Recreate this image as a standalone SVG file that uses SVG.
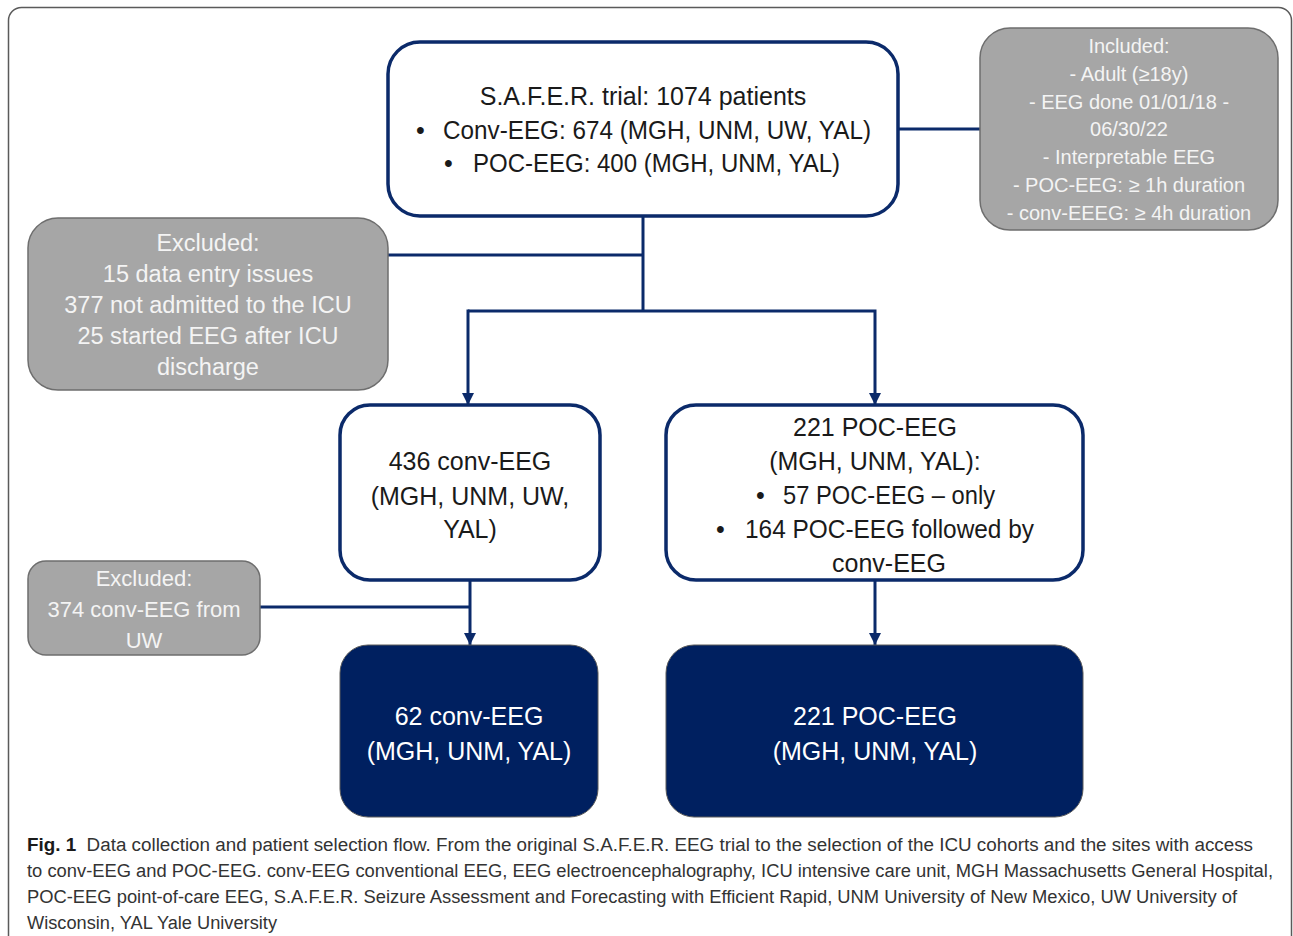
<svg xmlns="http://www.w3.org/2000/svg" width="1293" height="936" viewBox="0 0 1293 936">
<defs>
<style>
.frame{fill:none;stroke:#5a5a5a;stroke-width:1.5}
.wbox{fill:#ffffff;stroke:#0b2a6a;stroke-width:3.5}
.gbox{fill:#a6a6a6;stroke:#6e6e6e;stroke-width:1.5}
.dbox{fill:#002060;stroke:#5a5a5a;stroke-width:1}
.t{font-family:"Liberation Sans",Arial,sans-serif;text-anchor:middle}
.s{font-family:"Liberation Sans",Arial,sans-serif;text-anchor:start}
.tb{fill:#1a1a1a;font-size:25px}
.tg{fill:#f4f4f4;font-size:20px}
.tg1{fill:#f4f4f4;font-size:23.5px}
.tg2{fill:#f4f4f4;font-size:22px}
.tw{fill:#ffffff;font-size:25px}
.cap{font-family:"Liberation Sans",Arial,sans-serif;font-size:18px;fill:#333333}
.conn{fill:none;stroke:#0b2a6a;stroke-width:3}
</style>
<marker id="arr" viewBox="0 0 10 10" refX="10" refY="5" markerWidth="4" markerHeight="4.4" orient="auto" markerUnits="strokeWidth">
<path d="M0,0 L10,5 L0,10 z" fill="#0b2a6a"/>
</marker>
</defs>
<rect x="8.5" y="7.5" width="1283" height="980" rx="13" class="frame"/>
<g id="connectors">
<line x1="898" y1="129" x2="980" y2="129" class="conn"/>
<line x1="643" y1="216" x2="643" y2="311" class="conn"/>
<line x1="388" y1="255" x2="643" y2="255" class="conn"/>
<polyline points="468,311 875,311 875,405" class="conn" marker-end="url(#arr)"/>
<line x1="468" y1="309.5" x2="468" y2="405" class="conn" marker-end="url(#arr)"/>
<line x1="470" y1="580" x2="470" y2="645" class="conn" marker-end="url(#arr)"/>
<line x1="260" y1="607" x2="470" y2="607" class="conn"/>
<line x1="875" y1="580" x2="875" y2="645" class="conn" marker-end="url(#arr)"/>
</g>
<g id="trial">
<rect x="388" y="42" width="510" height="174" rx="32" class="wbox"/>
<text class="t tb" x="643" y="105">S.A.F.E.R. trial: 1074 patients</text>
<text class="s tb" x="416" y="139">•</text>
<text class="s tb" x="443" y="139" textLength="428" lengthAdjust="spacingAndGlyphs">Conv-EEG: 674 (MGH, UNM, UW, YAL)</text>
<text class="s tb" x="444" y="172">•</text>
<text class="s tb" x="473" y="172" textLength="367" lengthAdjust="spacingAndGlyphs">POC-EEG: 400 (MGH, UNM, YAL)</text>
</g>
<g id="included">
<rect x="980" y="28" width="298" height="202" rx="30" class="gbox"/>
<text class="t tg" x="1129" y="53">Included:</text>
<text class="t tg" x="1129" y="81">- Adult (≥18y)</text>
<text class="t tg" x="1129" y="109">- EEG done 01/01/18 -</text>
<text class="t tg" x="1129" y="136">06/30/22</text>
<text class="t tg" x="1129" y="164">- Interpretable EEG</text>
<text class="t tg" x="1129" y="192">- POC-EEG: ≥ 1h duration</text>
<text class="t tg" x="1129" y="220">- conv-EEEG: ≥ 4h duration</text>
</g>
<g id="excluded1">
<rect x="28" y="218" width="360" height="172" rx="30" class="gbox"/>
<text class="t tg1" x="208" y="251">Excluded:</text>
<text class="t tg1" x="208" y="282">15 data entry issues</text>
<text class="t tg1" x="208" y="313">377 not admitted to the ICU</text>
<text class="t tg1" x="208" y="344">25 started EEG after ICU</text>
<text class="t tg1" x="208" y="375">discharge</text>
</g>
<g id="conv436">
<rect x="340" y="405" width="260" height="175" rx="30" class="wbox"/>
<text class="t tb" x="470" y="470">436 conv-EEG</text>
<text class="t tb" x="470" y="505">(MGH, UNM, UW,</text>
<text class="t tb" x="470" y="538">YAL)</text>
</g>
<g id="poc221">
<rect x="666" y="405" width="417" height="175" rx="30" class="wbox"/>
<text class="t tb" x="875" y="436">221 POC-EEG</text>
<text class="t tb" x="875" y="470">(MGH, UNM, YAL):</text>
<text class="s tb" x="756" y="504">•</text>
<text class="s tb" x="783" y="504" textLength="212" lengthAdjust="spacingAndGlyphs">57 POC-EEG – only</text>
<text class="s tb" x="716" y="538">•</text>
<text class="s tb" x="745" y="538" textLength="289" lengthAdjust="spacingAndGlyphs">164 POC-EEG followed by</text>
<text class="t tb" x="889" y="572">conv-EEG</text>
</g>
<g id="excluded2">
<rect x="28" y="561" width="232" height="94" rx="18" class="gbox"/>
<text class="t tg2" x="144" y="586">Excluded:</text>
<text class="t tg2" x="144" y="617">374 conv-EEG from</text>
<text class="t tg2" x="144" y="648">UW</text>
</g>
<g id="final-conv">
<rect x="340" y="645" width="258" height="172" rx="28" class="dbox"/>
<text class="t tw" x="469" y="725">62 conv-EEG</text>
<text class="t tw" x="469" y="760">(MGH, UNM, YAL)</text>
</g>
<g id="final-poc">
<rect x="666" y="645" width="417" height="172" rx="28" class="dbox"/>
<text class="t tw" x="875" y="725">221 POC-EEG</text>
<text class="t tw" x="875" y="760">(MGH, UNM, YAL)</text>
</g>
<g id="caption">
<text class="cap" x="27" y="851" textLength="1226" lengthAdjust="spacingAndGlyphs"><tspan font-weight="bold" fill="#1a1a1a">Fig. 1</tspan><tspan dx="10">Data collection and patient selection flow. From the original S.A.F.E.R. EEG trial to the selection of the ICU cohorts and the sites with access</tspan></text>
<text class="cap" x="27" y="877" textLength="1246" lengthAdjust="spacingAndGlyphs">to conv-EEG and POC-EEG. conv-EEG conventional EEG, EEG electroencephalography, ICU intensive care unit, MGH Massachusetts General Hospital,</text>
<text class="cap" x="27" y="903" textLength="1210" lengthAdjust="spacingAndGlyphs">POC-EEG point-of-care EEG, S.A.F.E.R. Seizure Assessment and Forecasting with Efficient Rapid, UNM University of New Mexico, UW University of</text>
<text class="cap" x="27" y="929" textLength="250" lengthAdjust="spacingAndGlyphs">Wisconsin, YAL Yale University</text>
</g>
</svg>
